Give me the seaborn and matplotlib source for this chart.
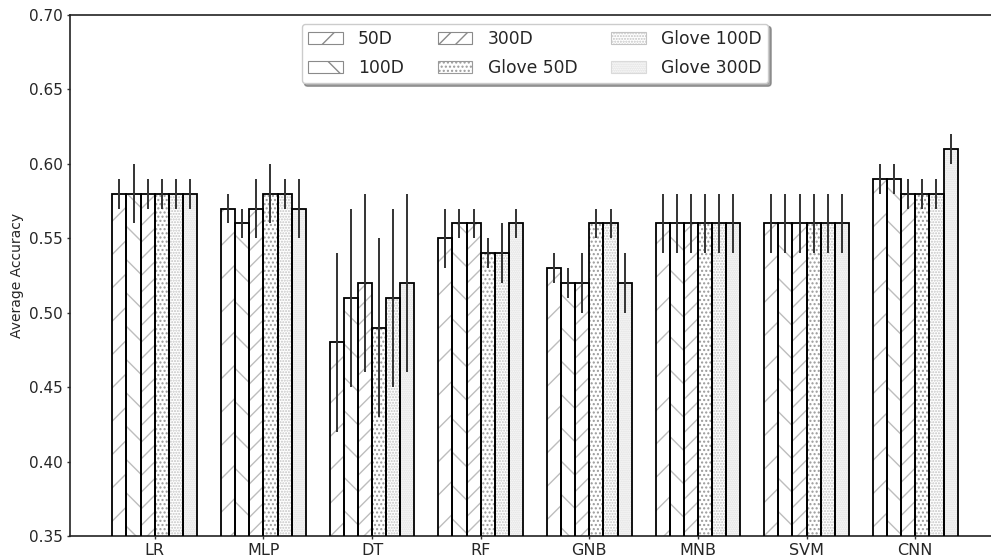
import numpy as np
import pandas as pd
import matplotlib
matplotlib.use("Agg")
import matplotlib.pyplot as plt
import seaborn as sns

# Classifiers and embedding variants
models = ["LR", "MLP", "DT", "RF", "GNB", "MNB", "SVM", "CNN"]
embeddings = ["50D", "100D", "300D", "Glove 50D", "Glove 100D", "Glove 300D"]

# Mean accuracy per embedding (one value per classifier)
acc_50d = [0.58, 0.57, 0.48, 0.55, 0.53, 0.56, 0.56, 0.59]
acc_100d = [0.58, 0.56, 0.51, 0.56, 0.52, 0.56, 0.56, 0.59]
acc_300d = [0.58, 0.57, 0.52, 0.56, 0.52, 0.56, 0.56, 0.58]
acc_glove50 = [0.58, 0.58, 0.49, 0.54, 0.56, 0.56, 0.56, 0.58]
acc_glove100 = [0.58, 0.58, 0.51, 0.54, 0.56, 0.56, 0.56, 0.58]
acc_glove300 = [0.58, 0.57, 0.52, 0.56, 0.52, 0.56, 0.56, 0.61]

# Standard deviations
std_50d = [0.01, 0.01, 0.06, 0.02, 0.01, 0.02, 0.02, 0.01]
std_100d = [0.02, 0.01, 0.06, 0.01, 0.01, 0.02, 0.02, 0.01]
std_300d = [0.01, 0.02, 0.06, 0.01, 0.02, 0.02, 0.02, 0.01]
std_glove50 = [0.01, 0.02, 0.06, 0.01, 0.01, 0.02, 0.02, 0.01]
std_glove100 = [0.01, 0.01, 0.06, 0.02, 0.01, 0.02, 0.02, 0.01]
std_glove300 = [0.01, 0.02, 0.06, 0.01, 0.02, 0.02, 0.02, 0.01]

y_ticks = [0.35, 0.40, 0.45, 0.50, 0.55, 0.60, 0.65, 0.70]

means = [acc_50d, acc_100d, acc_300d, acc_glove50, acc_glove100, acc_glove300]
stds = [std_50d, std_100d, std_300d, std_glove50, std_glove100, std_glove300]
hatches = ["/", "\\", "//", "....", "......", "........"]
hatch_colors = ["#bdbdbd", "#bdbdbd", "#bdbdbd", "#9a9a9a", "#c4c4c4", "#dadada"]

rows = []
for emb, m_list, s_list in zip(embeddings, means, stds):
    for model, m, s in zip(models, m_list, s_list):
        rows.append({"model": model, "embedding": emb, "acc": m, "std": s})
df = pd.DataFrame(rows)

sns.set_style("ticks")
plt.rcParams["font.family"] = ["DejaVu Sans"]
plt.rcParams["hatch.linewidth"] = 1.0

fig = plt.figure(figsize=(9.91, 5.59), dpi=100)
ax = fig.add_axes([70 / 991, 1 - 536 / 559, 930 / 991, 521 / 559])

sns.barplot(data=df, x="model", y="acc", hue="embedding", order=models,
            hue_order=embeddings, errorbar=None, width=0.78,
            palette=["white"] * len(embeddings), ax=ax, legend=False)

handles = []
for cont, hatch, hcol, emb, s_list in zip(ax.containers, hatches, hatch_colors,
                                          embeddings, stds):
    xs, ys, ws = [], [], []
    for bar in cont.patches:
        bar.set_hatch(hatch)
        bar.set_edgecolor(hcol)
        bar.set_facecolor("white")
        bar.set_linewidth(0)
        xs.append(bar.get_x())
        ws.append(bar.get_width())
        ys.append(bar.get_height())
    # black outline on top of the gray hatching
    ax.bar(xs, ys, width=ws, align="edge", fill=False, edgecolor="black",
           linewidth=1.3, zorder=3)
    centers = np.array(xs) + np.array(ws) / 2
    ax.errorbar(centers, ys, yerr=s_list, fmt="none", ecolor="#333333",
                elinewidth=1.4, capsize=0, zorder=4)
    handles.append(plt.Rectangle((0, 0), 1, 1, facecolor="white",
                                 edgecolor="#8a8a8a", hatch=hatch,
                                 linewidth=0.8, label=emb))

ax.set_xlim(-0.78, 7.78)
ax.set_ylim(0.35, 0.70)
ax.set_yticks(y_ticks)
ax.set_yticklabels([f"{t:.2f}" for t in y_ticks])
ax.set_xlabel("")
ax.set_ylabel("Average Accuracy", fontsize=10, labelpad=4)
ax.tick_params(axis="both", direction="out", length=2.5, pad=2.5,
               width=1.0, color="#333333")
ax.tick_params(axis="x", labelsize=11.5)
ax.tick_params(axis="y", labelsize=11)
for side in ["left", "bottom", "top"]:
    ax.spines[side].set_color("#222222")
    ax.spines[side].set_linewidth(1.2)
ax.spines["right"].set_visible(False)

leg = ax.legend(handles=handles, loc="upper center", ncol=3, fontsize=12.3,
                frameon=True, shadow=True, fancybox=True, handlelength=2.0,
                handletextpad=0.9, columnspacing=2.0, labelspacing=0.6,
                borderaxespad=0.5, bbox_to_anchor=(0.5, 1.0))
for patch, hcol in zip(leg.get_patches(), hatch_colors):
    patch.set_edgecolor(hcol if hcol != "#bdbdbd" else "#8a8a8a")

fig.savefig("out.png", dpi=100)
